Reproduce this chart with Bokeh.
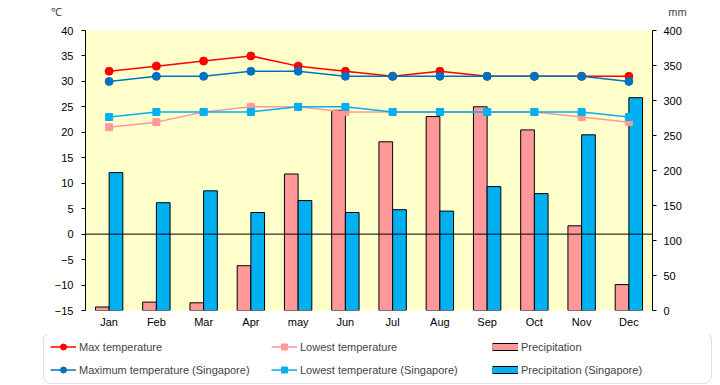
from bokeh.plotting import figure
from bokeh.models import (FactorRange, Range1d, LinearAxis, FixedTicker, Span,
                          Label, Legend, LegendItem)
from bokeh.layouts import column
from bokeh.transform import dodge
from bokeh.embed import file_html
from bokeh.resources import INLINE

months = ["Jan", "Feb", "Mar", "Apr", "may", "Jun", "Jul", "Aug", "Sep", "Oct", "Nov", "Dec"]
max_temp = [32, 33, 34, 35, 33, 32, 31, 32, 31, 31, 31, 31]
min_temp = [21, 22, 24, 25, 25, 24, 24, 24, 24, 24, 23, 22]
sg_max_temp = [30, 31, 31, 32, 32, 31, 31, 31, 31, 31, 31, 30]
sg_min_temp = [23, 24, 24, 24, 25, 25, 24, 24, 24, 24, 24, 23]
precip = [5, 12, 11, 64, 195, 286, 241, 277, 291, 258, 121, 37]
sg_precip = [197, 154, 171, 140, 157, 140, 144, 142, 177, 167, 251, 304]
temp_ticks = list(range(-15, 41, 5))
precip_ticks = list(range(0, 401, 50))
series_labels = ["Max temperature", "Lowest temperature", "Precipitation",
                 "Maximum temperature (Singapore)", "Lowest temperature (Singapore)",
                 "Precipitation (Singapore)"]

FONT = "Liberation Sans"
RED = "#FF0000"
PINK = "#FF9999"
BLUE = "#0070C0"
CYAN = "#00B0F0"
W = 720


def unalign(f):
    if "frame_align" in f.properties():
        f.frame_align = False


def blank(height, x_range=None):
    f = figure(width=W, height=height, output_backend="svg", toolbar_location=None,
               x_range=x_range if x_range is not None else Range1d(0, 1),
               y_range=Range1d(0, 1),
               x_axis_type=None, y_axis_type=None,
               min_border_left=0, min_border_right=0, min_border_top=0, min_border_bottom=0)
    f.outline_line_color = None
    f.xgrid.visible = False
    f.ygrid.visible = False
    f.background_fill_color = "white"
    f.border_fill_color = "white"
    unalign(f)
    return f


# ---- header with unit labels
head = blank(26)
head.add_layout(Label(x=56, y=15, x_units="screen", y_units="screen", text="℃",
                      text_align="center", text_baseline="middle",
                      text_font=FONT, text_font_size="11px"))
head.add_layout(Label(x=677, y=15, x_units="screen", y_units="screen", text="mm",
                      text_align="center", text_baseline="middle",
                      text_font=FONT, text_font_size="11px"))

# ---- main chart
p = figure(x_range=FactorRange(*months), y_range=Range1d(-15, 40),
           width=W, height=308, output_backend="svg", toolbar_location=None,
           min_border_left=85, min_border_right=68, min_border_top=4, min_border_bottom=24)
unalign(p)
p.extra_y_ranges = {"mm": Range1d(0, 400)}
p.background_fill_color = "#FFFFCC"
p.border_fill_color = "white"
p.outline_line_color = None
p.xgrid.visible = False
p.ygrid.visible = False

p.yaxis.ticker = FixedTicker(ticks=temp_ticks)
p.yaxis.minor_tick_line_color = None
p.yaxis.major_tick_out = 4
p.yaxis.major_tick_in = 0
p.yaxis.major_label_standoff = 8

raxis = LinearAxis(y_range_name="mm", ticker=FixedTicker(ticks=precip_ticks))
raxis.minor_tick_line_color = None
raxis.major_tick_out = 4
raxis.major_tick_in = 0
raxis.major_label_standoff = 7
p.add_layout(raxis, "right")

p.xaxis.axis_line_color = None
p.xaxis.major_tick_line_color = None
p.xaxis.major_tick_out = 0
p.xaxis.major_label_standoff = 5

for ax in (p.yaxis[0], raxis, p.xaxis[0]):
    ax.major_label_text_font = FONT
    ax.major_label_text_font_size = "11px"
    ax.major_label_text_color = "black"

bw = 0.29
p.vbar(x=dodge("x", -bw / 2, range=p.x_range), top="top", width=bw, bottom=0,
       source=dict(x=months, top=precip), y_range_name="mm",
       fill_color=PINK, line_color="black", line_width=1)
p.vbar(x=dodge("x", bw / 2, range=p.x_range), top="top", width=bw, bottom=0,
       source=dict(x=months, top=sg_precip), y_range_name="mm",
       fill_color=CYAN, line_color="black", line_width=1)

p.line(months, max_temp, line_color=RED, line_width=1.5)
p.scatter(months, max_temp, marker="circle", size=8, color=RED)
p.line(months, sg_max_temp, line_color=BLUE, line_width=1.5)
p.scatter(months, sg_max_temp, marker="circle", size=8, color=BLUE)
p.line(months, min_temp, line_color=PINK, line_width=1.5)
p.scatter(months, min_temp, marker="square", size=7, color=PINK)
p.line(months, sg_min_temp, line_color=CYAN, line_width=1.5)
p.scatter(months, sg_min_temp, marker="square", size=7, color=CYAN)

p.add_layout(Span(location=0, dimension="width", line_color="black", line_width=1))

# ---- legend strip (hidden copies of the series feed the legend swatches)
lg = blank(51, x_range=FactorRange(*months))
hid = dict(visible=False)
r_max = [lg.line(months, max_temp, line_color=RED, line_width=1.5, **hid),
         lg.scatter(months, max_temp, marker="circle", color=RED, **hid)]
r_min = [lg.line(months, min_temp, line_color=PINK, line_width=1.5, **hid),
         lg.scatter(months, min_temp, marker="square", color=PINK, **hid)]
r_pr = [lg.line(months, precip, line_color="black", line_width=8, **hid),
        lg.line(months, precip, line_color=PINK, line_width=6, **hid)]
r_sgmax = [lg.line(months, sg_max_temp, line_color=BLUE, line_width=1.5, **hid),
           lg.scatter(months, sg_max_temp, marker="circle", color=BLUE, **hid)]
r_sgmin = [lg.line(months, sg_min_temp, line_color=CYAN, line_width=1.5, **hid),
           lg.scatter(months, sg_min_temp, marker="square", color=CYAN, **hid)]
r_sgpr = [lg.line(months, sg_precip, line_color="black", line_width=8, **hid),
          lg.line(months, sg_precip, line_color=CYAN, line_width=6, **hid)]
groups = [r_max, r_min, r_pr, r_sgmax, r_sgmin, r_sgpr]
items = [LegendItem(label=lab, renderers=rs) for lab, rs in zip(series_labels, groups)]
legend = Legend(items=items, ncols=3, orientation="horizontal", location=(43, 1),
                border_line_color="#BFBFBF", border_line_width=1.5, border_radius=8,
                background_fill_color="white", background_fill_alpha=1,
                inactive_fill_alpha=0,
                label_text_font=FONT, label_text_font_size="11px",
                glyph_width=26, glyph_height=15, label_height=15,
                label_standoff=3, spacing=8, padding=6, margin=0, label_width=184)
lg.add_layout(legend, "center")

layout = column(head, p, lg, spacing=0)
open("out.html", "w").write(file_html(layout, INLINE))
